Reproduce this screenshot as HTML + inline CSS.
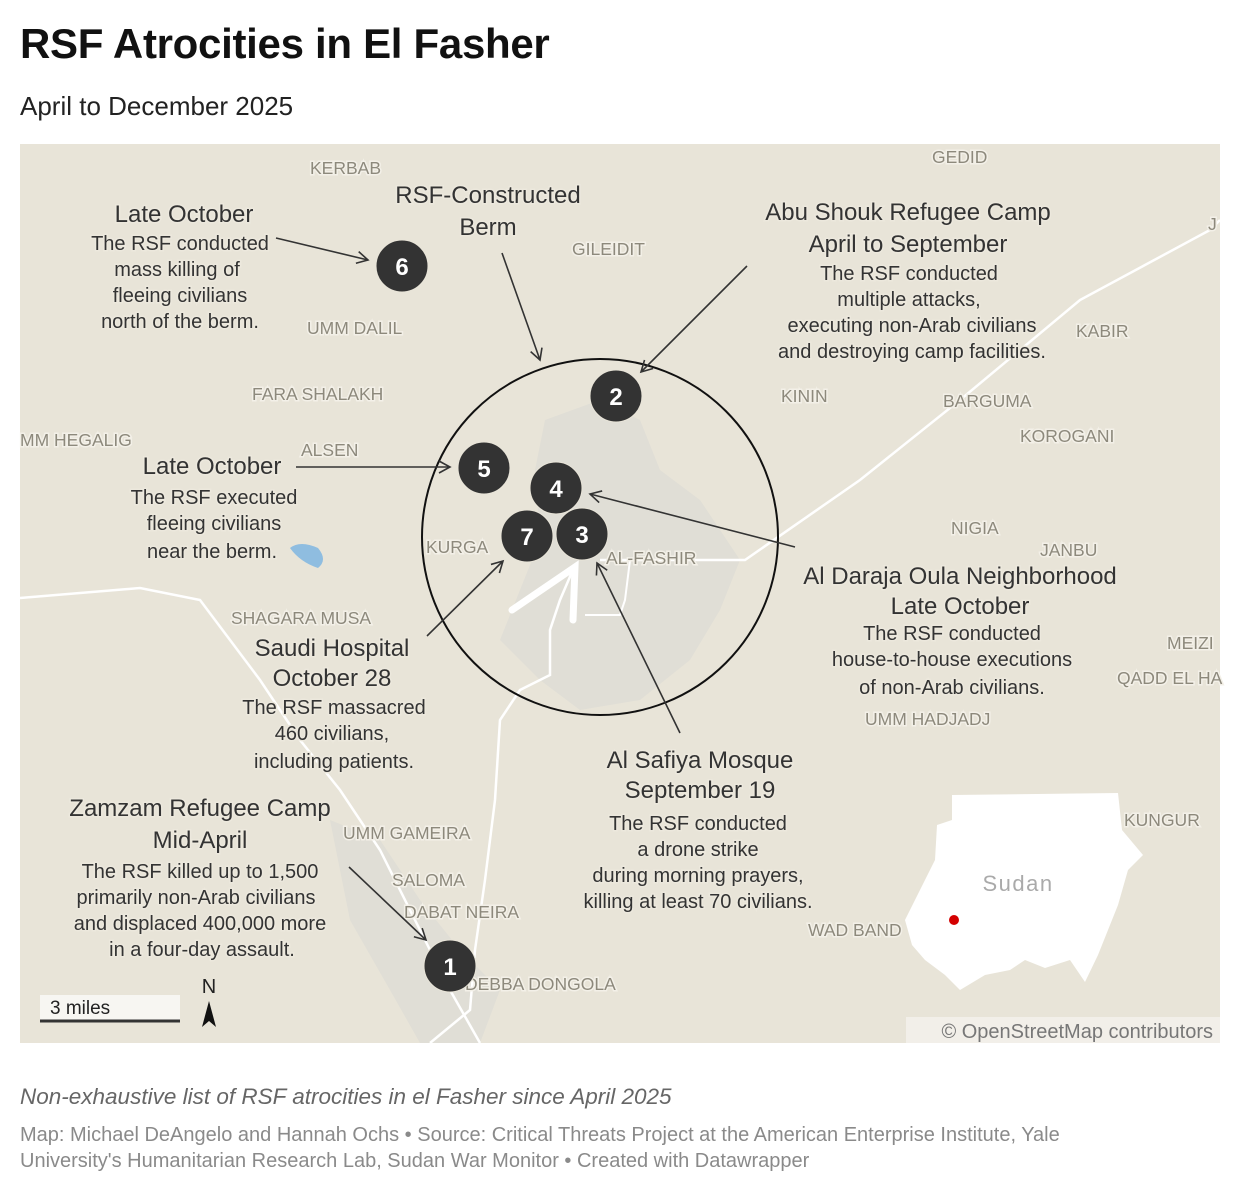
<!DOCTYPE html>
<html><head><meta charset="utf-8"><style>
body{margin:0;background:#fff;font-family:"Liberation Sans",sans-serif;width:1240px;height:1194px;overflow:hidden;position:relative}
h1{position:absolute;left:20px;top:20px;margin:0;font-size:42px;font-weight:bold;color:#111;letter-spacing:-0.3px}
.sub{position:absolute;left:20px;top:91px;font-size:26px;color:#222}
.note{position:absolute;left:20px;top:1084px;font-size:22.5px;font-style:italic;color:#666}
.src{position:absolute;left:20px;top:1122px;font-size:20px;color:#8a8a8a;line-height:26px;width:1140px}
svg{position:absolute;left:0;top:0}
.pl{font-size:17.5px;fill:#8d897c;stroke:#f3f0e8;stroke-width:3;paint-order:stroke}
.t{font-size:24px;fill:#333;text-anchor:middle;stroke:#ece8dd;stroke-width:3;paint-order:stroke}
.b{font-size:20px;fill:#333;text-anchor:middle;stroke:#ece8dd;stroke-width:3;paint-order:stroke}
.n{font-size:24px;fill:#fff;font-weight:bold;text-anchor:middle}
</style></head><body>
<h1>RSF Atrocities in El Fasher</h1>
<div class="sub">April to December 2025</div>
<svg width="1240" height="1194" viewBox="0 0 1240 1194">
<defs><marker id="a" markerWidth="14" markerHeight="14" refX="12" refY="7" orient="auto" markerUnits="userSpaceOnUse"><path d="M1,1 L12,7 L1,13" fill="none" stroke="#333" stroke-width="1.6"/></marker></defs>
<rect x="20" y="144" width="1200" height="899" fill="#e8e4d8"/>
<path d="M545,420 L600,400 L640,420 L660,470 L700,500 L740,560 L720,610 L690,660 L640,700 L580,710 L540,680 L500,640 L520,590 L540,540 L535,470Z" fill="#e0ded6"/>
<path d="M330,820 L380,840 L420,900 L460,950 L500,990 L480,1043 L420,1043 L390,990 L350,920Z" fill="#e0ded6"/>
<path d="M20,598 L140,588 L200,600 L260,680 L300,740 L340,790 L380,850 L420,930 L450,990 L480,1043" fill="none" stroke="#fff" stroke-width="2.5"/>
<path d="M575,565 L560,600 L550,630 L550,675 L520,690 L500,720 L495,800 L485,880 L475,950 L470,1010 L430,1043" fill="none" stroke="#fff" stroke-width="2.5"/>
<path d="M600,560 L700,560 L745,560 L860,480 L960,400 L1080,300 L1210,230 L1220,220" fill="none" stroke="#fff" stroke-width="2.5"/>
<path d="M630,560 L625,600 L620,615 L585,615" fill="none" stroke="#fff" stroke-width="2"/>
<path d="M512,610 L575,567 L573,620" fill="none" stroke="#fff" stroke-width="7" stroke-linecap="round"/>
<path d="M290,548 Q300,540 318,548 Q328,560 318,568 Q300,562 290,548Z" fill="#8fbde0"/>
<text class="pl" x="310" y="174">KERBAB</text>
<text class="pl" x="932" y="163">GEDID</text>
<text class="pl" x="572" y="255">GILEIDIT</text>
<text class="pl" x="1208" y="230">J</text>
<text class="pl" x="307" y="334">UMM DALIL</text>
<text class="pl" x="1076" y="337">KABIR</text>
<text class="pl" x="252" y="400">FARA SHALAKH</text>
<text class="pl" x="781" y="402">KININ</text>
<text class="pl" x="943" y="407">BARGUMA</text>
<text class="pl" x="20" y="446">MM HEGALIG</text>
<text class="pl" x="1020" y="442">KOROGANI</text>
<text class="pl" x="301" y="456">ALSEN</text>
<text class="pl" x="951" y="534">NIGIA</text>
<text class="pl" x="1040" y="556">JANBU</text>
<text class="pl" x="426" y="553">KURGA</text>
<text class="pl" x="606" y="564">AL-FASHIR</text>
<text class="pl" x="231" y="624">SHAGARA MUSA</text>
<text class="pl" x="1167" y="649">MEIZI</text>
<text class="pl" x="1117" y="684">QADD EL HA</text>
<text class="pl" x="865" y="725">UMM HADJADJ</text>
<text class="pl" x="343" y="839">UMM GAMEIRA</text>
<text class="pl" x="392" y="886">SALOMA</text>
<text class="pl" x="404" y="918">DABAT NEIRA</text>
<text class="pl" x="808" y="936">WAD BAND</text>
<text class="pl" x="465" y="990">DEBBA DONGOLA</text>
<text class="pl" x="1124" y="826">KUNGUR</text>
<path d="M952,795 L1118,793 L1122,830 L1143,855 L1128,870 L1118,905 L1098,955 L1085,982 L1070,960 L1045,968 L1025,960 L1010,970 L985,975 L960,990 L945,975 L925,960 L912,945 L905,920 L920,890 L935,860 L937,825 L952,820Z" fill="#fff"/>
<text x="1018" y="891" font-size="22" fill="#aaa" text-anchor="middle" letter-spacing="1.5">Sudan</text>
<circle cx="954" cy="920" r="5" fill="#d40000"/>
<circle cx="600" cy="537" r="178" fill="none" stroke="#111" stroke-width="2"/>
<g stroke="#333" stroke-width="1.6" fill="none" marker-end="url(#a)">
<line x1="276" y1="238" x2="368" y2="260"/>
<line x1="502" y1="253" x2="540" y2="360"/>
<line x1="747" y1="266" x2="641" y2="372"/>
<line x1="296" y1="467" x2="450" y2="467"/>
<line x1="795" y1="547" x2="590" y2="494"/>
<line x1="427" y1="636" x2="503" y2="561"/>
<line x1="680" y1="733" x2="597" y2="563"/>
<line x1="349" y1="867" x2="426" y2="940"/>
</g>
<g fill="#333" stroke="#e8e4d8" stroke-width="1">
<circle cx="402" cy="266" r="26"/><circle cx="616" cy="396" r="26"/><circle cx="484" cy="468" r="26"/>
<circle cx="556" cy="488" r="26"/><circle cx="527" cy="536" r="26"/><circle cx="582" cy="534" r="26"/>
<circle cx="450" cy="966" r="26"/></g>
<text class="n" x="402" y="275">6</text><text class="n" x="616" y="405">2</text><text class="n" x="484" y="477">5</text>
<text class="n" x="556" y="497">4</text><text class="n" x="527" y="545">7</text><text class="n" x="582" y="543">3</text><text class="n" x="450" y="975">1</text>
<text class="t" x="184" y="222">Late October</text>
<text class="b" x="180" y="250">The RSF conducted</text><text class="b" x="177" y="276">mass killing of</text><text class="b" x="180" y="302">fleeing civilians</text><text class="b" x="180" y="328">north of the berm.</text>
<text class="t" x="488" y="203">RSF-Constructed</text><text class="t" x="488" y="235">Berm</text>
<text class="t" x="908" y="220">Abu Shouk Refugee Camp</text><text class="t" x="908" y="252">April to September</text>
<text class="b" x="909" y="280">The RSF conducted</text><text class="b" x="909" y="306">multiple attacks,</text><text class="b" x="912" y="332">executing non-Arab civilians</text><text class="b" x="912" y="358">and destroying camp facilities.</text>
<text class="t" x="212" y="474">Late October</text>
<text class="b" x="214" y="504">The RSF executed</text><text class="b" x="214" y="530">fleeing civilians</text><text class="b" x="212" y="558">near the berm.</text>
<text class="t" x="960" y="584">Al Daraja Oula Neighborhood</text><text class="t" x="960" y="614">Late October</text>
<text class="b" x="952" y="640">The RSF conducted</text><text class="b" x="952" y="666">house-to-house executions</text><text class="b" x="952" y="694">of non-Arab civilians.</text>
<text class="t" x="332" y="656">Saudi Hospital</text><text class="t" x="332" y="686">October 28</text>
<text class="b" x="334" y="714">The RSF massacred</text><text class="b" x="332" y="740">460 civilians,</text><text class="b" x="334" y="768">including patients.</text>
<text class="t" x="700" y="768">Al Safiya Mosque</text><text class="t" x="700" y="798">September 19</text>
<text class="b" x="698" y="830">The RSF conducted</text><text class="b" x="698" y="856">a drone strike</text><text class="b" x="698" y="882">during morning prayers,</text><text class="b" x="698" y="908">killing at least 70 civilians.</text>
<text class="t" x="200" y="816">Zamzam Refugee Camp</text><text class="t" x="200" y="848">Mid-April</text>
<text class="b" x="200" y="878">The RSF killed up to 1,500</text><text class="b" x="196" y="904">primarily non-Arab civilians</text><text class="b" x="200" y="930">and displaced 400,000 more</text><text class="b" x="202" y="956">in a four-day assault.</text>
<rect x="40" y="995" width="140" height="26" fill="#f7f6f2"/>
<line x1="40" y1="1021" x2="180" y2="1021" stroke="#333" stroke-width="3"/>
<text x="50" y="1014" font-size="19" fill="#222">3 miles</text>
<text x="209" y="993" font-size="20" fill="#222" text-anchor="middle">N</text>
<path d="M209,1001 L202,1027 L209,1021 L216,1027Z" fill="#111"/>
<rect x="906" y="1017" width="314" height="26" fill="#f3f1ec" opacity="0.85"/>
<text x="1213" y="1038" font-size="20" fill="#777" text-anchor="end">© OpenStreetMap contributors</text>
</svg>
<div class="note">Non-exhaustive list of RSF atrocities in el Fasher since April 2025</div>
<div class="src">Map: Michael DeAngelo and Hannah Ochs • Source: Critical Threats Project at the American Enterprise Institute, Yale University's Humanitarian Research Lab, Sudan War Monitor • Created with Datawrapper</div>
</body></html>
